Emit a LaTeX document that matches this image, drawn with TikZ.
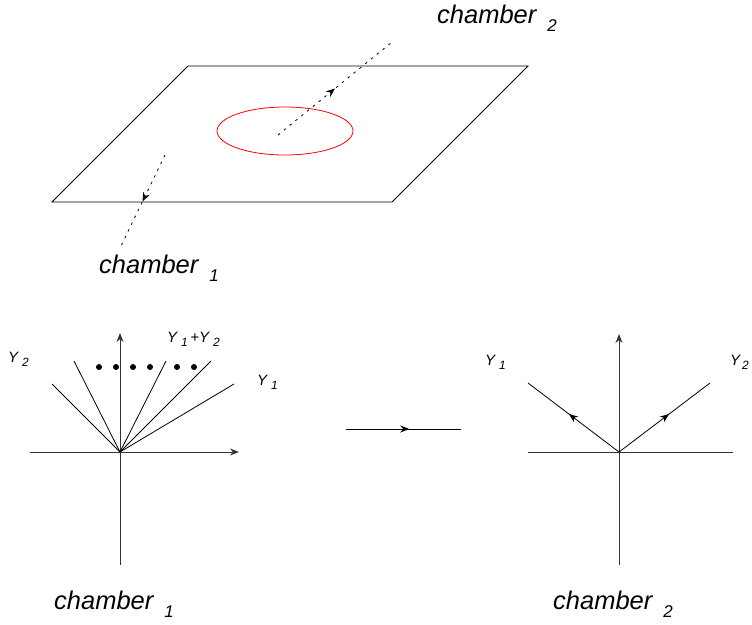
\documentclass[tikz,border=0pt]{standalone}
\usepackage{fontspec}
\setmainfont{Liberation Sans}
\usetikzlibrary{arrows.meta,decorations.markings}
\newcommand{\chsub}[1]{\hspace{11pt}\raisebox{-8pt}{\fontsize{17}{19}\selectfont #1}}
\newcommand{\gsub}[1]{\hspace{4pt}\raisebox{-4pt}{\fontsize{12}{14}\selectfont #1}}
\begin{document}
\begin{tikzpicture}[x=1pt,y=-1pt,
 ln/.style={line width=0.9pt},
 ray/.style={line width=0.8pt},
 axis/.style={line width=1pt, black!80},
 tip/.style={-{Stealth[length=9pt,width=7pt]}},
 dotl/.style={line width=0.8pt, dash pattern=on 2.5pt off 5pt},
 lbl/.style={font=\fontsize{25.5}{30}\selectfont\itshape, inner sep=0pt, anchor=base west},
 glbl/.style={font=\fontsize{15}{17}\selectfont\itshape, inner sep=0pt, anchor=base west},
 midarrow/.style={postaction={decorate}, decoration={markings, mark=at position #1 with {\arrow{Stealth[length=9pt,width=7pt]}}}}
]
\useasboundingbox (0,0) rectangle (752,624);
% top plane
\coordinate (p1) at (188,66);
\coordinate (p2) at (528,66);
\coordinate (p3) at (392,202);
\coordinate (p4) at (52,202);
\draw[ln] (p1) -- (p2) -- (p3) -- (p4) -- cycle;
\coordinate (ec) at (285,131);
\draw[red, line width=0.8pt] (ec) ellipse [x radius=68, y radius=24];
\coordinate (d1s) at (278,135);
\coordinate (d1e) at (392,42);
\draw[dotl, midarrow=0.5] (d1s) -- (d1e);
\coordinate (d2s) at (165,155);
\coordinate (d2e) at (120,248);
\draw[dotl, midarrow=0.5] (d2s) -- (d2e);
\node[lbl] (c2top) at (437,23) {chamber\chsub{2}};
\node[lbl] (c1top) at (99,273) {chamber\chsub{1}};
% bottom left
\coordinate (o1) at (120,452);
\coordinate (h1a) at (30,452);
\coordinate (h1b) at (239,452);
\coordinate (v1a) at (120,565);
\coordinate (v1b) at (120,333);
\draw[axis,tip] (h1a) -- (h1b);
\draw[axis,tip] (v1a) -- (v1b);
\foreach \p in {(52,384),(74,361),(166,361),(211,361),(234,384)}
  \draw[ray] (o1) -- \p;
\foreach \x in {99,116,133,150,177,194}
  \fill (\x,367) circle (3);
\node[glbl] (g2l) at (8,362) {Y\gsub{2}};
\node[glbl] (g12) at (167,342) {Y\gsub{1}\,+Y\gsub{2}};
\node[glbl] (g1l) at (257,385) {Y\gsub{1}};
% middle arrow
\coordinate (ma) at (346,429);
\coordinate (mb) at (461,429);
\draw[ray, midarrow=0.55] (ma) -- (mb);
% bottom right
\coordinate (o2) at (619,452);
\coordinate (h2a) at (528,452);
\coordinate (h2b) at (733,452);
\coordinate (v2a) at (619,565);
\coordinate (v2b) at (619,334);
\coordinate (r2a) at (528,383);
\coordinate (r2b) at (710,383);
\draw[axis] (h2a) -- (h2b);
\draw[axis,tip] (v2a) -- (v2b);
\draw[ray, midarrow=0.55] (o2) -- (r2a);
\draw[ray, midarrow=0.55] (o2) -- (r2b);
\node[glbl] (g1r) at (485,365) {Y\gsub{1}};
\node[glbl] (g2r) at (730,365) {Y\hspace{2pt}\raisebox{-4pt}{\fontsize{12}{14}\selectfont 2}};
\node[lbl] (c1b) at (54,609) {chamber\chsub{1}};
\node[lbl] (c2b) at (553,609) {chamber\chsub{2}};
\end{tikzpicture}
\end{document}
